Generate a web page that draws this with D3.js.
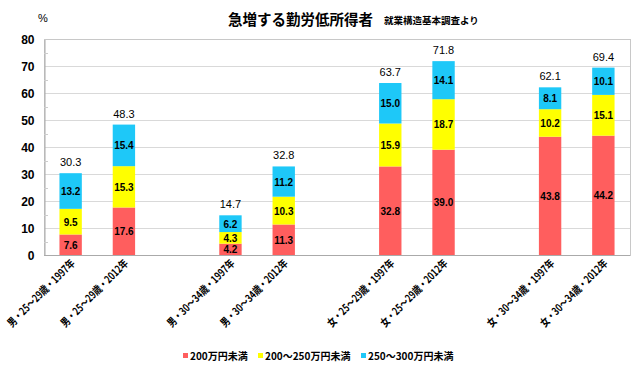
<!DOCTYPE html>
<html><head><meta charset="utf-8">
<script src="https://cdn.jsdelivr.net/npm/d3@7"></script>
<style>
body{margin:0;background:#fff;}
text{font-family:"Liberation Sans",Arial,"Noto Sans CJK JP",sans-serif;}
.jp{font-family:"Noto Sans CJK JP",sans-serif;}
</style></head>
<body><svg id="c" width="636" height="371"></svg>
<script>
const categories = ["男・25～29歳・1997年","男・25～29歳・2012年","男・30～34歳・1997年","男・30～34歳・2012年","女・25～29歳・1997年","女・25～29歳・2012年","女・30～34歳・1997年","女・30～34歳・2012年"];
const seriesNames = ["200万円未満","200～250万円未満","250～300万円未満"];
const under200 = [7.6,17.6,4.2,11.3,32.8,39.0,43.8,44.2];
const from200to250 = [9.5,15.3,4.3,10.3,15.9,18.7,10.2,15.1];
const from250to300 = [13.2,15.4,6.2,11.2,15.0,14.1,8.1,10.1];
const totals = [30.3,48.3,14.7,32.8,63.7,71.8,62.1,69.4];
const yTicks = [0,10,20,30,40,50,60,70,80];
const colors = ["#ff5e5e","#ffff00","#1ec8f8"];

const svg = d3.select("#c");
const L=44, R=630, T=39, B=255;

const slots = [];
categories.forEach((c,i)=>{ slots.push(c); if(i%2===1 && i<categories.length-1) slots.push("gap"+i); });
const x = d3.scaleBand().domain(slots).range([L,R]).paddingInner(0.58).paddingOuter(0.29);
const y = d3.scaleLinear().domain([0,80]).range([B,T]);

svg.append("g").selectAll("line").data(yTicks.slice(1)).join("line")
  .attr("x1",L).attr("x2",R).attr("y1",d=>Math.round(y(d))+0.5).attr("y2",d=>Math.round(y(d))+0.5)
  .attr("stroke","#d9d9d9").attr("stroke-width",1);
svg.append("rect").attr("x",L+0.5).attr("y",T+0.5).attr("width",R-L).attr("height",B-T)
  .attr("fill","none").attr("stroke","#c8c8c8");

const ya = svg.append("g").attr("transform",`translate(${L+0.5},0.5)`)
  .call(d3.axisLeft(y).tickValues(yTicks).tickSize(0).tickPadding(10));
ya.select(".domain").attr("stroke","#aaa");
ya.selectAll("text").attr("font-size",12).attr("font-weight","bold").attr("fill","#000");
svg.append("g").selectAll("line").data(d3.range(5,80,10)).join("line")
  .attr("x1",L).attr("x2",L+4).attr("y1",d=>Math.round(y(d))+0.5).attr("y2",d=>Math.round(y(d))+0.5)
  .attr("stroke","#ccc");

const data = categories.map((c,i)=>({cat:c, s0:under200[i], s1:from200to250[i], s2:from250to300[i]}));
const stack = d3.stack().keys(["s0","s1","s2"])(data);
const g = svg.append("g");
stack.forEach((layer,k)=>{
  g.append("g").selectAll("rect").data(layer).join("rect")
    .attr("x",d=>x(d.data.cat)).attr("width",x.bandwidth())
    .attr("y",d=>y(d[1])).attr("height",d=>y(d[0])-y(d[1]))
    .attr("fill",colors[k]);
  g.append("g").selectAll("text").data(layer).join("text")
    .attr("x",d=>x(d.data.cat)+x.bandwidth()/2)
    .attr("y",d=>(y(d[0])+y(d[1]))/2+4)
    .attr("text-anchor","middle").attr("font-size",10).attr("font-weight","bold")
    .text(d=>(d[1]-d[0]).toFixed(1));
});
svg.append("g").selectAll("text").data(categories).join("text")
  .attr("x",c=>x(c)+x.bandwidth()/2).attr("y",(c,i)=>y(totals[i])-7)
  .attr("text-anchor","middle").attr("font-size",11).text((c,i)=>totals[i].toFixed(1));

svg.append("line").attr("x1",L).attr("x2",R).attr("y1",B+0.5).attr("y2",B+0.5).attr("stroke","#aaa");

svg.append("g").selectAll("text").data(categories).join("text")
  .attr("class","jp")
  .attr("transform",c=>`translate(${x(c)+x.bandwidth()/2+5},${B+9}) rotate(-45)`)
  .attr("text-anchor","end").attr("font-size",11).attr("font-weight","bold")
  .attr("textLength",90).attr("lengthAdjust","spacingAndGlyphs").text(c=>c);

svg.append("text").attr("x",43).attr("y",22).attr("font-size",11).attr("text-anchor","middle").text("%");

svg.append("text").attr("class","jp").attr("x",228).attr("y",25).attr("font-size",14.5).attr("font-weight","bold").text("急増する勤労低所得者");
svg.append("text").attr("class","jp").attr("x",384).attr("y",24).attr("font-size",9.5).attr("font-weight","bold").text("就業構造基本調査より");

const legX = [183,258,361];
const lg = svg.append("g");
seriesNames.forEach((n,i)=>{
  lg.append("rect").attr("x",legX[i]).attr("y",353).attr("width",5).attr("height",5).attr("fill",colors[i]);
  lg.append("text").attr("class","jp").attr("x",legX[i]+7).attr("y",360).attr("font-size",10).attr("font-weight","bold").text(n);
});
</script></body></html>
